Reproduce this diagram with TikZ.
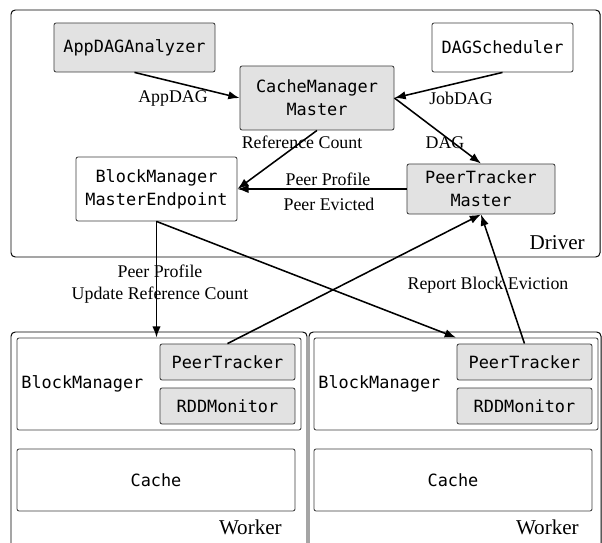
\documentclass[tikz,border=0pt]{standalone}
\usepackage{fontspec}
\setmainfont{Liberation Serif}
\setmonofont{DejaVu Sans Mono}
\usetikzlibrary{arrows.meta,positioning,calc}
\definecolor{boxgray}{HTML}{E2E2E2}
\definecolor{edgegray}{HTML}{3C3C3C}
\tikzstyle{comp} = [draw=edgegray,line width=0.6pt,rounded corners=1.5pt,align=center,inner sep=0pt,font=\fontsize{12}{16.4}\selectfont\ttfamily]
\tikzstyle{shaded} = [comp,fill=boxgray]
\tikzstyle{frame} = [draw,line width=0.7pt,rounded corners=3pt]
\tikzstyle{lbl} = [font=\fontsize{12.7}{15.6}\selectfont,inner sep=0pt,align=center]
\tikzstyle{place} = [font=\fontsize{15}{18}\selectfont,inner sep=0pt]
\tikzstyle{flow} = [line width=1.1pt,->]
\tikzset{>={Latex[length=8pt,width=6pt]}}

\begin{document}
\begin{tikzpicture}[x=0.025cm,y=-0.025cm]
    \clip (0,0) rectangle (602,543);
    % driver side
    \draw [frame] (11,10) rectangle (600,257);
    \node [place,anchor=east] (driver) at (585,243) {Driver};
    \node [shaded,minimum width=4.025cm,minimum height=1.225cm] (appdag) at (134.5,47.5) {AppDAGAnalyzer};
    \node [comp,minimum width=3.525cm,minimum height=1.225cm] (dagsched) at (502.5,47.5) {DAGScheduler};
    \node [shaded,minimum width=3.85cm,minimum height=1.6cm] (cachemgr) at (317,98) {CacheManager\\Master};
    \node [comp,minimum width=4.025cm,minimum height=1.6cm] (bmme) at (156.5,189) {BlockManager\\MasterEndpoint};
    \node [shaded,minimum width=3.7cm,minimum height=1.25cm] (ptm) at (481,189) {PeerTracker\\Master};

    % two workers
    \draw [frame] (11,332) rectangle (307,560);
    \draw [frame] (309,332) rectangle (601,560);
    \node [comp,minimum width=7.1cm,minimum height=2.3cm] (bmA) at (159,384) {};
    \node [comp,minimum width=7.1cm,minimum height=2.3cm] (bmB) at (456,384) {};
    \node [comp,draw=none,fill=none,anchor=west] (bmlblA) at (21,384) {BlockManager};
    \node [comp,draw=none,fill=none,anchor=west] (bmlblB) at (318,384) {BlockManager};
    \node [shaded,minimum width=3.375cm,minimum height=0.9cm] (ptA) at (227.5,362) {PeerTracker};
    \node [shaded,minimum width=3.375cm,minimum height=0.9cm] (rddA) at (227.5,406) {RDDMonitor};
    \node [shaded,minimum width=3.375cm,minimum height=0.9cm] (ptB) at (524.5,362) {PeerTracker};
    \node [shaded,minimum width=3.375cm,minimum height=0.9cm] (rddB) at (524.5,406) {RDDMonitor};
    \node [comp,minimum width=6.95cm,minimum height=1.55cm] (cacheA) at (156,480) {Cache};
    \node [comp,minimum width=6.95cm,minimum height=1.55cm] (cacheB) at (453,480) {Cache};
    \node [place,anchor=east] (workerA) at (282,527) {Worker};
    \node [place,anchor=east] (workerB) at (579,527) {Worker};

    % flows
    \draw [flow] (appdag.south) -- (cachemgr.west);
    \draw [flow] (dagsched.south) -- (cachemgr.east);
    \draw [flow] (cachemgr.east) -- (ptm.north);
    \draw [flow] (cachemgr.south) -- (bmme.east);
    \draw [flow] (ptm.west) -- (bmme.east);
    \draw [flow] (bmme.south) -- (bmme.south |- bmA.north);
    \draw [flow] (bmme.south) -- (bmB.north);
    \draw [flow] (ptA.north) -- (ptm.south);
    \draw [flow] (ptB.north) -- (ptm.south);

    \node [lbl] (appdaglbl) at (173,98) {AppDAG};
    \node [lbl] (jobdaglbl) at (461,98) {JobDAG};
    \node [lbl] (daglbl) at (445,143) {DAG};
    \node [lbl] (refcnt) at (302,142) {Reference Count};
    \node [lbl] (profile) at (328,179) {Peer Profile};
    \node [lbl] (evicted) at (329,204) {Peer Evicted};
    \node [lbl] (update) at (160,284) {Peer Profile\\Update Reference Count};
    \node [lbl] (report) at (488,285) {Report Block Eviction};
\end{tikzpicture}
\end{document}
